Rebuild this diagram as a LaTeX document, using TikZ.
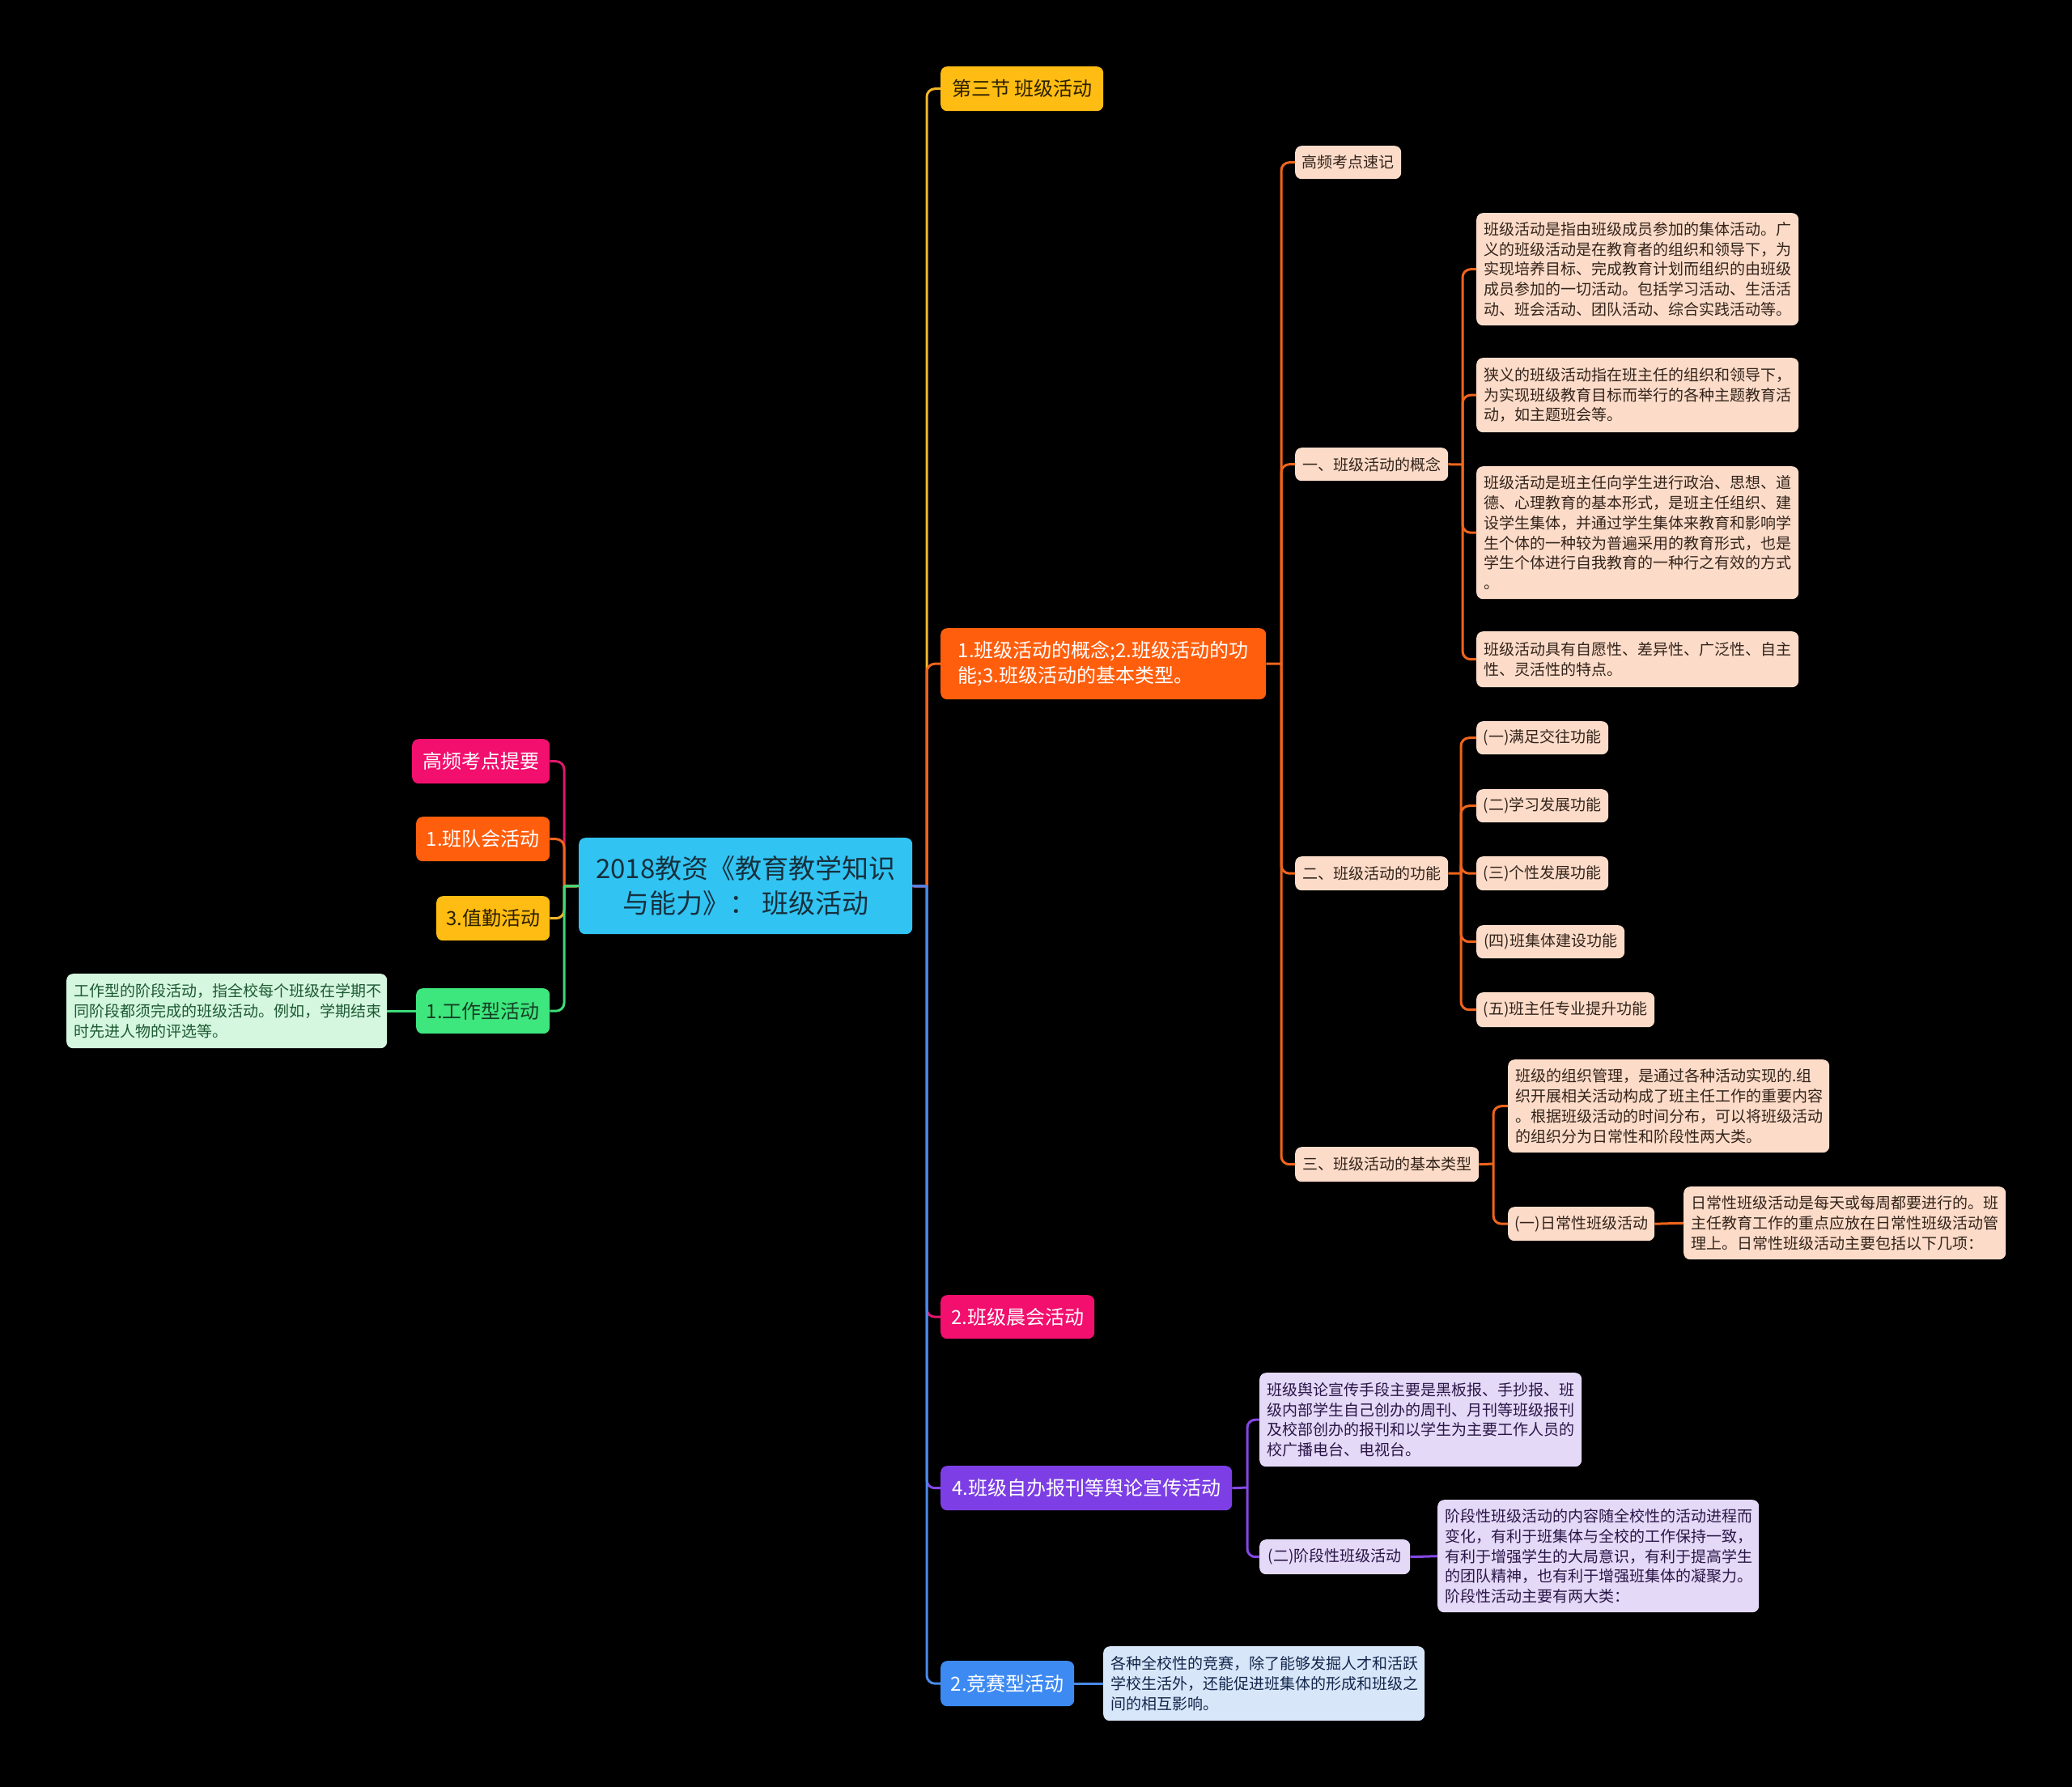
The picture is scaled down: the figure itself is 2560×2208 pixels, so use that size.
\documentclass[tikz,border=0pt]{standalone}
\usepackage{fontspec}
\setmainfont{Noto Sans CJK SC}
\definecolor{rootc}{HTML}{31C4F3}
\definecolor{roott}{HTML}{17303D}
\definecolor{yel}{HTML}{FFBC12}
\definecolor{ora}{HTML}{FF5E0D}
\definecolor{mag}{HTML}{F20F6E}
\definecolor{pur}{HTML}{7D3FE5}
\definecolor{blu}{HTML}{3D8AF2}
\definecolor{grn}{HTML}{3EE67E}
\definecolor{peach}{HTML}{FCDCC9}
\definecolor{lpur}{HTML}{E4D9F7}
\definecolor{lblu}{HTML}{D8E6FA}
\definecolor{lgrn}{HTML}{D5F7E0}
\definecolor{peacht}{HTML}{33231A}
\definecolor{purt}{HTML}{2A1648}
\definecolor{blut}{HTML}{13264A}
\definecolor{grnt}{HTML}{1E5A32}
\definecolor{darkt}{HTML}{2A2000}
\definecolor{lnora}{HTML}{F0641C}
\definecolor{lnyel}{HTML}{F5B52A}
\definecolor{lnpur}{HTML}{8448E6}
\definecolor{lnblu}{HTML}{4A8AE8}
\definecolor{lnmag}{HTML}{E0186C}
\definecolor{lngrn}{HTML}{3EDB7A}
\tikzset{
  nd/.style={rounded corners=8pt, inner sep=0pt, anchor=north west, align=center},
  sz/.style 2 args={minimum width=#1pt, minimum height=#2pt},
  tw/.style={text width=#1pt},
  small/.style={nd, font=\fontsize{19pt}{24.7pt}\selectfont},
  leaf/.style={small, align=left},
  mid/.style={nd, font=\fontsize{24pt}{31pt}\selectfont},
  conn/.style={line width=3pt, rounded corners=10pt},
}
\begin{document}
\begin{tikzpicture}[x=1pt,y=-1pt]
\fill[black] (0,0) rectangle (2560,2208);
\useasboundingbox (0,0) rectangle (2560,2208);

% root
\node[nd, sz={412}{119}, fill=rootc, text=roott, font=\fontsize{33pt}{43pt}\selectfont] (root) at (715,1035) {2018教资《教育教学知识\\与能力》： 班级活动};

% left children
\node[mid, sz={170}{55}, fill=mag, text=white] (L1) at (509,913) {高频考点提要};
\node[mid, sz={165}{55}, fill=ora, text=white] (L2) at (514,1009) {1.班队会活动};
\node[mid, sz={140}{55}, fill=yel, text=darkt] (L3) at (539,1107) {3.值勤活动};
\node[mid, sz={165}{56}, fill=grn, text=grnt!70!black] (L4) at (514,1221) {1.工作型活动};
\node[leaf, sz={396}{92}, tw={378}, fill=lgrn, text=grnt] (L4a) at (82,1203) {工作型的阶段活动，指全校每个班级在学期不\\同阶段都须完成的班级活动。例如，学期结束\\时先进人物的评选等。};

% right children
\node[mid, sz={201}{55}, fill=yel, text=darkt] (R1) at (1162,82) {第三节 班级活动};
\node[mid, sz={402}{88}, fill=ora, text=white, align=left] (R2) at (1162,776) {1.班级活动的概念;2.班级活动的功\\能;3.班级活动的基本类型。};
\node[mid, sz={190}{54}, fill=mag, text=white] (R3) at (1162,1600) {2.班级晨会活动};
\node[mid, sz={360}{55}, fill=pur, text=white] (R4) at (1162,1811) {4.班级自办报刊等舆论宣传活动};
\node[mid, sz={165}{56}, fill=blu, text=white] (R5) at (1162,2052) {2.竞赛型活动};

% orange subtree level 2
\node[small, sz={131}{41}, fill=peach, text=peacht] (O1) at (1600,180) {高频考点速记};
\node[small, sz={189}{41}, fill=peach, text=peacht] (O2) at (1600,553) {一、班级活动的概念};
\node[small, sz={189}{42}, fill=peach, text=peacht] (O3) at (1600,1058) {二、班级活动的功能};
\node[small, sz={227}{43}, fill=peach, text=peacht] (O4) at (1600,1417) {三、班级活动的基本类型};

% level 3 under O2
\node[leaf, sz={398}{139}, tw={380}, fill=peach, text=peacht] (A1) at (1824,263) {班级活动是指由班级成员参加的集体活动。广\\义的班级活动是在教育者的组织和领导下，为\\实现培养目标、完成教育计划而组织的由班级\\成员参加的一切活动。包括学习活动、生活活\\动、班会活动、团队活动、综合实践活动等。};
\node[leaf, sz={398}{92}, tw={380}, fill=peach, text=peacht] (A2) at (1824,442) {狭义的班级活动指在班主任的组织和领导下，\\为实现班级教育目标而举行的各种主题教育活\\动，如主题班会等。};
\node[leaf, sz={398}{164}, tw={380}, fill=peach, text=peacht] (A3) at (1824,576) {班级活动是班主任向学生进行政治、思想、道\\德、心理教育的基本形式，是班主任组织、建\\设学生集体，并通过学生集体来教育和影响学\\生个体的一种较为普遍采用的教育形式，也是\\学生个体进行自我教育的一种行之有效的方式\\。};
\node[leaf, sz={398}{69}, tw={380}, fill=peach, text=peacht] (A4) at (1824,780) {班级活动具有自愿性、差异性、广泛性、自主\\性、灵活性的特点。};

% level 3 under O3
\node[small, sz={163}{41}, fill=peach, text=peacht] (B1) at (1824,891) {(一)满足交往功能};
\node[small, sz={163}{41}, fill=peach, text=peacht] (B2) at (1824,975) {(二)学习发展功能};
\node[small, sz={163}{42}, fill=peach, text=peacht] (B3) at (1824,1058) {(三)个性发展功能};
\node[small, sz={183}{41}, fill=peach, text=peacht] (B4) at (1824,1143) {(四)班集体建设功能};
\node[small, sz={220}{43}, fill=peach, text=peacht] (B5) at (1824,1226) {(五)班主任专业提升功能};

% level 3 under O4
\node[leaf, sz={397}{115}, tw={379}, fill=peach, text=peacht] (C1) at (1863,1309) {班级的组织管理，是通过各种活动实现的.组\\织开展相关活动构成了班主任工作的重要内容\\。根据班级活动的时间分布，可以将班级活动\\的组织分为日常性和阶段性两大类。};
\node[small, sz={181}{42}, fill=peach, text=peacht] (C2) at (1863,1491) {(一)日常性班级活动};
\node[leaf, sz={398}{90}, tw={380}, fill=peach, text=peacht] (C2a) at (2080,1466) {日常性班级活动是每天或每周都要进行的。班\\主任教育工作的重点应放在日常性班级活动管\\理上。日常性班级活动主要包括以下几项：};

% purple subtree
\node[leaf, sz={398}{116}, tw={380}, fill=lpur, text=purt] (P1) at (1556,1696) {班级舆论宣传手段主要是黑板报、手抄报、班\\级内部学生自己创办的周刊、月刊等班级报刊\\及校部创办的报刊和以学生为主要工作人员的\\校广播电台、电视台。};
\node[small, sz={186}{43}, fill=lpur, text=purt] (P2) at (1556,1902) {(二)阶段性班级活动};
\node[leaf, sz={397}{139}, tw={379}, fill=lpur, text=purt] (P2a) at (1776,1853) {阶段性班级活动的内容随全校性的活动进程而\\变化，有利于班集体与全校的工作保持一致，\\有利于增强学生的大局意识，有利于提高学生\\的团队精神，也有利于增强班集体的凝聚力。\\阶段性活动主要有两大类：};

% blue subtree
\node[leaf, sz={397}{92}, tw={379}, fill=lblu, text=blut] (Q1) at (1363,2034) {各种全校性的竞赛，除了能够发掘人才和活跃\\学校生活外，还能促进班集体的形成和班级之\\间的相互影响。};

% spine coordinates
\coordinate (rs) at (1145,1095);
\coordinate (ls) at (697,1095);
\coordinate (os) at (1583,820);
\coordinate (as) at (1807,574);
\coordinate (bs) at (1805,1079);
\coordinate (cs) at (1845,1438);
\coordinate (ps) at (1541,1838);

% left connectors
\draw[conn, lnmag] (root.west) -- (ls);
\draw[conn, lnmag] (ls) |- (L1.east);
\draw[conn, lnora] (root.west) -- (ls);
\draw[conn, lnora] (ls) |- (L2.east);
\draw[conn, lnyel] (root.west) -- (ls);
\draw[conn, lnyel] (ls) |- (L3.east);
\draw[conn, lngrn] (root.west) -- (ls);
\draw[conn, lngrn] (ls) |- (L4.east);
\draw[conn, lngrn] (L4.west) -- (L4a.east);

% right connectors
\draw[conn, lnyel] (root.east) -- (rs);
\draw[conn, lnyel] (rs) |- (R1.west);
\draw[conn, lnora] (root.east) -- (rs);
\draw[conn, lnora] (rs) |- (R2.west);
\draw[conn, lnmag] (root.east) -- (rs);
\draw[conn, lnmag] (rs) |- (R3.west);
\draw[conn, lnpur] (root.east) -- (rs);
\draw[conn, lnpur] (rs) |- (R4.west);
\draw[conn, lnblu] (root.east) -- (rs);
\draw[conn, lnblu] (rs) |- (R5.west);

% orange subtree connectors
\draw[conn, lnora] (R2.east) -- (os);
\foreach \n in {O1,O2,O3,O4} \draw[conn, lnora] (os) |- (\n.west);
\draw[conn, lnora] (O2.east) -- (as);
\foreach \n in {A1,A2,A3,A4} \draw[conn, lnora] (as) |- (\n.west);
\draw[conn, lnora] (O3.east) -- (bs);
\foreach \n in {B1,B2,B3,B4,B5} \draw[conn, lnora] (bs) |- (\n.west);
\draw[conn, lnora] (O4.east) -- (cs);
\foreach \n in {C1,C2} \draw[conn, lnora] (cs) |- (\n.west);
\draw[conn, lnora] (C2.east) -- (C2a.west);

% purple subtree connectors
\draw[conn, lnpur] (R4.east) -- (ps);
\foreach \n in {P1,P2} \draw[conn, lnpur] (ps) |- (\n.west);
\draw[conn, lnpur] (P2.east) -- (P2a.west);

% blue
\draw[conn, lnblu] (R5.east) -- (Q1.west);
\end{tikzpicture}
\end{document}
